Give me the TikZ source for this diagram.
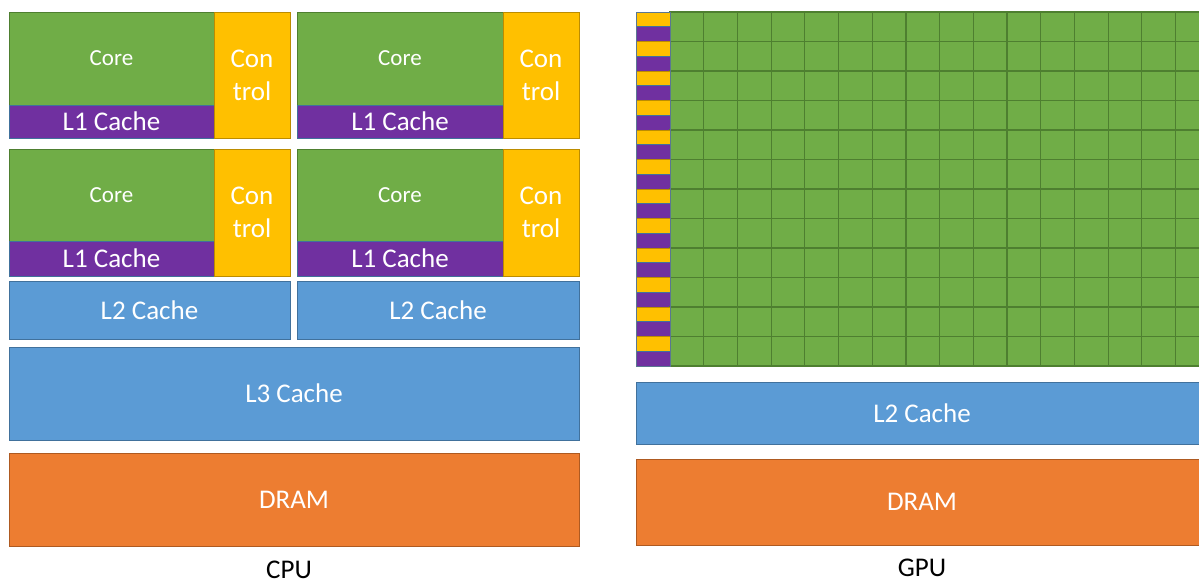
\documentclass[tikz,border=0pt]{standalone}
\usepackage{fontspec}
\setmainfont{Carlito}
\definecolor{cgreen}{HTML}{70AD47}
\definecolor{cgreenD}{HTML}{4E7F30}
\definecolor{cpurple}{HTML}{7030A0}
\definecolor{cpurpleD}{HTML}{41719C}
\definecolor{cyellow}{HTML}{FFC000}
\definecolor{cyellowD}{HTML}{BC8C00}
\definecolor{cblue}{HTML}{5B9BD5}
\definecolor{cblueD}{HTML}{41719C}
\definecolor{corange}{HTML}{ED7D31}
\definecolor{corangeD}{HTML}{AE5A21}
\tikzset{
  box/.style={draw, line width=1pt, inner sep=0pt, outer sep=0pt, anchor=north west,
    text=white, font=\fontsize{27}{33}\selectfont},
  corebox/.style={box, fill=cgreen, draw=cgreenD, font=\fontsize{23}{28}\selectfont},
  lonebox/.style={box, fill=cpurple, draw=cpurpleD},
  ctrlbox/.style={box, fill=cyellow, draw=cyellowD, align=center},
  cachebox/.style={box, fill=cblue, draw=cblueD},
  drambox/.style={box, fill=corange, draw=corangeD},
  caption/.style={inner sep=0pt, text=black, font=\fontsize{27}{33}\selectfont},
  gcell/.style={fill=cgreen, draw=cgreenD, line width=1.2pt},
  gctrl/.style={fill=cyellow, draw=cyellowD, line width=0.8pt},
  gl1/.style={fill=cpurple, draw=cpurpleD, line width=0.8pt}
}
\begin{document}
\begin{tikzpicture}[x=1pt,y=-1pt]
\useasboundingbox (0,0) rectangle (1199,584);
\clip (0,0) rectangle (1199,584);
% ---------- CPU ----------
% block 1
\node[corebox, minimum width=205pt, minimum height=93pt] (core1) at (9,12) {Core};
\node[lonebox, minimum width=205pt, minimum height=33pt] (lone1) at (9,105) {L1 Cache};
\node[ctrlbox, minimum width=76pt, minimum height=126pt] (ctrl1) at (214,12) {Con\\trol};
% block 2
\node[corebox, minimum width=206pt, minimum height=93pt] (core2) at (297,12) {Core};
\node[lonebox, minimum width=206pt, minimum height=33pt] (lone2) at (297,105) {L1 Cache};
\node[ctrlbox, minimum width=76pt, minimum height=126pt] (ctrl2) at (503,12) {Con\\trol};
% block 3
\node[corebox, minimum width=205pt, minimum height=92pt] (core3) at (9,149) {Core};
\node[lonebox, minimum width=205pt, minimum height=35pt] (lone3) at (9,241) {L1 Cache};
\node[ctrlbox, minimum width=76pt, minimum height=127pt] (ctrl3) at (214,149) {Con\\trol};
% block 4
\node[corebox, minimum width=206pt, minimum height=92pt] (core4) at (297,149) {Core};
\node[lonebox, minimum width=206pt, minimum height=35pt] (lone4) at (297,241) {L1 Cache};
\node[ctrlbox, minimum width=76pt, minimum height=127pt] (ctrl4) at (503,149) {Con\\trol};
% caches and DRAM
\node[cachebox, minimum width=281pt, minimum height=58pt] (ltwoa) at (9,281) {L2 Cache};
\node[cachebox, minimum width=282pt, minimum height=58pt] (ltwob) at (297,281) {L2 Cache};
\node[cachebox, minimum width=570pt, minimum height=93pt] (lthree) at (9,347) {L3 Cache};
\node[drambox, minimum width=570pt, minimum height=93pt] (cdram) at (9,453) {DRAM};
\node[caption] (cpu) at (289,570) {CPU};
% ---------- GPU ----------
\foreach \r in {0,...,11} {
  \foreach \c in {0,...,15} {
    \draw[gcell] ({670+33.7*\c},{12+29.5*\r}) rectangle ++(33.7,29.5);
  }
  \draw[gctrl] (636,{12+29.5*\r}) rectangle (670,{12+29.5*\r+14.75});
  \draw[gl1] (636,{12+29.5*\r+14.75}) rectangle (670,{12+29.5*\r+29.5});
}
\draw[cblueD!60!gray, line width=0.8pt] (636,12) rectangle (670,366);
\node[cachebox, minimum width=572pt, minimum height=62pt] (gltwo) at (636,382) {L2 Cache};
\node[drambox, minimum width=572pt, minimum height=86pt] (gdram) at (636,459) {DRAM};
\node[caption] (gpu) at (922,568) {GPU};
\end{tikzpicture}
\end{document}
